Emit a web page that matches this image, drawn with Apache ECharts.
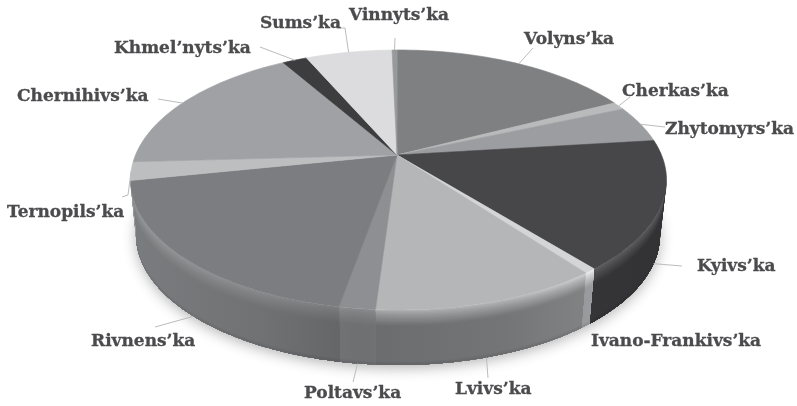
<!DOCTYPE html>
<html>
<head>
<meta charset="utf-8" />
<title></title>
<script src="https://cdn.jsdelivr.net/npm/echarts@6/dist/echarts.min.js"></script>
<style>html,body{margin:0;background:#fff}</style>
</head>
<body>
<div id="main" style="width:797px;height:406px;"></div>
<script>
// clockwise from 12 o'clock, share in %
var regions = ["Volyns’ka","Cherkas’ka","Zhytomyrs’ka","Kyivs’ka","Ivano-Frankivs’ka","Lvivs’ka","Poltavs’ka","Rivnens’ka","Ternopils’ka","Chernihivs’ka","Khmel’nyts’ka","Sums’ka","Vinnyts’ka"];
var shares = [15.0,0.9,4.3,16.9,0.7,13.7,2.2,21.4,2.3,15.7,1.5,5.2,0.3];

var topColors  = ["#7f8082","#b9babc","#9c9da0","#47474a","#d4d5d6","#b5b6b8","#8e8f92","#7c7d80","#bdbec0","#a0a1a4","#3d3d40","#dcdcde","#98999c"];
var sideColors = ["#6a6b6d","#8f9092","#7d7e80","#303032","#8c8d90","#767779","#7b7c7e","#6e6f71","#8f9092","#77787a","#2c2c2e","#a0a1a3","#77787a"];

// label box: left x, centre y; leader: outer points after the rim point
var labelLeft = [524,622,665,697,591,455,304,91,7,17,114,260,349];
var labelMid  = [40,92,130,267,342,390,394,342,213,97,49,24,16];
var leaderEnds = [
  [[533,48]],
  [[630,97]],
  [[665,127]],
  [[682,266]],
  [],
  [[488,378]],
  [[353,382]],
  [[155,327]],
  [[128,195],[122,197]],
  [[158,99]],
  [[260,47]],
  [[345,28],[338,28]],
  [[395,38]]
];

var apex = [397,155];
var topE = {cx:398.5, cy:180, rx:268, ry:130};
var botE = {cx:398, cy:235, rx:262, ry:130};
var startDeg = -0.3;

var total = shares.reduce(function (a,b) { return a+b; }, 0);
function sliceRange(i) {
  var sum = 0;
  for (var k = 0; k < i; k++) sum += shares[k];
  return [startDeg + sum/total*360, startDeg + (sum+shares[i])/total*360];
}
function rim(e, deg) {
  var t = deg*Math.PI/180;
  return [e.cx + e.rx*Math.sin(t), e.cy - e.ry*Math.cos(t)];
}
function arcPts(e, a, b) {
  var pts = [], n = Math.max(2, Math.ceil(Math.abs(b-a)/1.5));
  for (var i = 0; i <= n; i++) pts.push(rim(e, a+(b-a)*i/n));
  return pts;
}
function lerpPt(a,b,k) { return [a[0]+(b[0]-a[0])*k, a[1]+(b[1]-a[1])*k]; }
function hexRgb(h) { return [parseInt(h.substr(1,2),16),parseInt(h.substr(3,2),16),parseInt(h.substr(5,2),16)]; }
function mix(c1,c2,k) {
  return [c1[0]+(c2[0]-c1[0])*k, c1[1]+(c2[1]-c1[1])*k, c1[2]+(c2[2]-c1[2])*k];
}
function css(c,m) {
  return 'rgb('+[0,1,2].map(function (i) { return Math.min(255,Math.round(c[i]*m)); }).join(',')+')';
}
// side wall gets darker around x=340, lighter toward the ends
function wallFill(c) {
  return {type:'linear',global:true,x:130,y:0,x2:666,y2:0,colorStops:[
    {offset:0,color:css(c,1.12)},
    {offset:0.25,color:css(c,1.02)},
    {offset:0.42,color:css(c,0.9)},
    {offset:0.7,color:css(c,0.98)},
    {offset:0.86,color:css(c,1.1)},
    {offset:1,color:css(c,1.05)}
  ]};
}

function renderWall(params, api) {
  var i = params.dataIndex;
  api.value(0);
  var children = [];
  if (i === 0) {
    children.push({type:'polygon',z2:-1,shape:{points:arcPts(botE,0,360)},
      style:{fill:'#fff',shadowBlur:14,shadowColor:'rgba(0,0,0,0.3)',shadowOffsetY:3}});
  }
  var r = sliceRange(i);
  var a = Math.max(r[0],90), b = Math.min(r[1],270);
  if (b > a) {
    var tp = arcPts(topE,a,b), bt = arcPts(botE,a,b);
    var side = hexRgb(sideColors[i]), face = hexRgb(topColors[i]);
    var hi = mix(face,[255,255,255],0.08);
    var bands = 40;
    for (var n = 0; n < bands; n++) {
      var k = n/bands;
      var upper = tp.map(function (p,j) { return lerpPt(p,bt[j],k); });
      var col = k < 0.28 ? mix(hi,side,Math.pow(k/0.28,0.8)) : side;
      if (k > 0.92) col = mix(col,[0,0,0],0.12*(k-0.92)/0.08);
      children.push({type:'polygon',shape:{points:upper.concat(bt.slice().reverse())},style:{fill:wallFill(col)}});
    }
  }
  return {type:'group',children:children};
}

function renderFace(params, api) {
  var i = params.dataIndex;
  api.value(0);
  var r = sliceRange(i);
  var pts = [apex].concat(arcPts(topE,r[0],r[1]));
  return {type:'polygon',shape:{points:pts},
    style:{fill:topColors[i],stroke:topColors[i],lineWidth:0.6}};
}

function renderLabel(params, api) {
  var i = params.dataIndex;
  api.value(0);
  var r = sliceRange(i), mid = (r[0]+r[1])/2;
  var front = mid > 90 && mid < 270;
  var start = rim(front ? botE : topE, mid);
  var children = [];
  if (leaderEnds[i].length) {
    children.push({type:'polyline',shape:{points:[start].concat(leaderEnds[i])},
      style:{stroke:'#bcbcbc',lineWidth:1,fill:'none'}});
  }
  children.push({type:'text',x:labelLeft[i],y:labelMid[i],
    style:{text:regions[i],font:'bold 17px "DejaVu Serif"',fill:'#4b4b4d',stroke:'#4b4b4d',lineWidth:0.3,align:'left',verticalAlign:'middle'}});
  return {type:'group',children:children};
}

var chart = echarts.init(document.getElementById('main'));
chart.setOption({
  animation:false,
  backgroundColor:'#fff',
  series:[
    {type:'custom',coordinateSystem:'none',renderItem:renderWall,data:shares,silent:true,z:1},
    {type:'custom',coordinateSystem:'none',renderItem:renderFace,data:shares,silent:true,z:2},
    {type:'custom',coordinateSystem:'none',renderItem:renderLabel,data:shares,silent:true,z:3}
  ]
});
</script>
</body>
</html>
